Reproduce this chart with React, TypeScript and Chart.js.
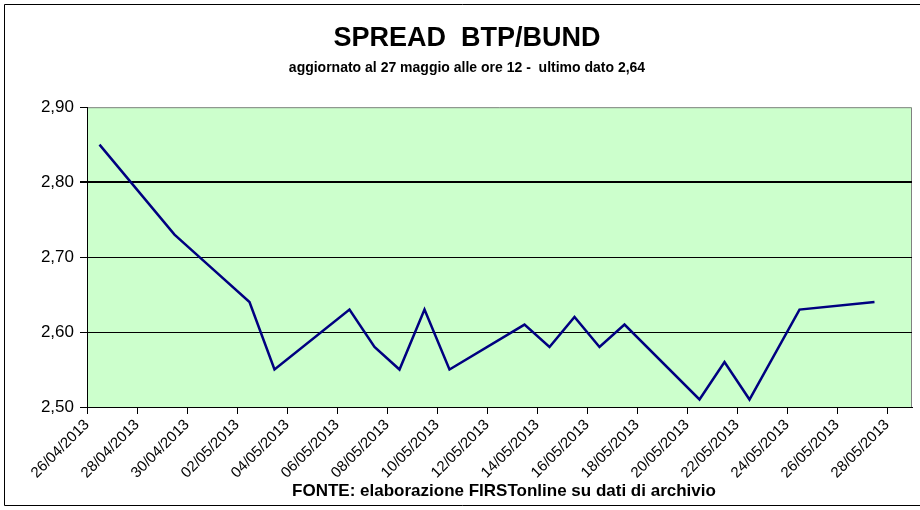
import React, { useEffect, useRef } from "react";
import { Chart, registerables } from "chart.js";

Chart.register(...registerables);

const TITLE = "SPREAD  BTP/BUND";
const SUBTITLE = "aggiornato al 27 maggio alle ore 12 -  ultimo dato 2,64";
const FOOTER = "FONTE: elaborazione FIRSTonline su dati di archivio";

const AXIS_START = "26/04/2013";
const AXIS_DAYS = 33;
const TICK_STEP_DAYS = 2;

const dates = [
  "26/04/2013", "29/04/2013", "30/04/2013", "02/05/2013", "03/05/2013",
  "06/05/2013", "07/05/2013", "08/05/2013", "09/05/2013", "10/05/2013",
  "13/05/2013", "14/05/2013", "15/05/2013", "16/05/2013", "17/05/2013",
  "20/05/2013", "21/05/2013", "22/05/2013", "24/05/2013", "27/05/2013",
];
const spread = [
  2.85, 2.73, 2.70, 2.64, 2.55,
  2.63, 2.58, 2.55, 2.63, 2.55,
  2.61, 2.58, 2.62, 2.58, 2.61,
  2.51, 2.56, 2.51, 2.63, 2.64,
];

const Y_MIN = 2.5;
const Y_MAX = 2.9;
const Y_STEP = 0.1;

const parseDate = (s: string) => {
  const [d, m, y] = s.split("/").map(Number);
  return Date.UTC(y, m - 1, d);
};
const DAY = 86400000;
const start = parseDate(AXIS_START);
const dayIndex = (s: string) => Math.round((parseDate(s) - start) / DAY);
const fmt = (n: number) => (n < 10 ? "0" + n : "" + n);
const labelFor = (v: number) => {
  const d = new Date(start + v * DAY);
  return `${fmt(d.getUTCDate())}/${fmt(d.getUTCMonth() + 1)}/${d.getUTCFullYear()}`;
};

const FONT = "'Liberation Sans', Arial, sans-serif";

export default function App() {
  const ref = useRef<HTMLCanvasElement | null>(null);

  useEffect(() => {
    document.body.style.margin = "0";
    const canvas = ref.current;
    if (!canvas) return;

    const points = dates.map((d, i) => ({ x: dayIndex(d) + 0.5, y: spread[i] }));

    const bgPlugin = {
      id: "bgPlugin",
      beforeDraw(chart: any) {
        const { ctx, chartArea: a } = chart;
        ctx.save();
        ctx.fillStyle = "#ffffff";
        ctx.fillRect(0, 0, chart.width, chart.height);
        ctx.fillStyle = "#CCFFCC";
        ctx.fillRect(a.left, a.top, a.right - a.left, a.bottom - a.top);
        ctx.strokeStyle = "#808080";
        ctx.lineWidth = 1;
        ctx.beginPath();
        ctx.moveTo(a.left, a.top + 0.5);
        ctx.lineTo(a.right - 0.5, a.top + 0.5);
        ctx.lineTo(a.right - 0.5, a.bottom);
        ctx.stroke();
        ctx.restore();
      },
      afterDraw(chart: any) {
        const { ctx } = chart;
        ctx.save();
        ctx.fillStyle = "#000";
        ctx.font = `bold 17px ${FONT}`;
        ctx.textAlign = "center";
        ctx.textBaseline = "middle";
        ctx.fillText(FOOTER, 504, 491);
        ctx.strokeStyle = "#000";
        ctx.lineWidth = 1;
        ctx.beginPath();
        ctx.moveTo(4.5, 505.5);
        ctx.lineTo(4.5, 4.5);
        ctx.lineTo(921, 4.5);
        ctx.moveTo(4.5, 505.5);
        ctx.lineTo(921, 505.5);
        ctx.stroke();
        ctx.restore();
      },
    };

    const chart = new Chart(canvas, {
      type: "line",
      data: {
        datasets: [
          {
            data: points,
            borderColor: "#000080",
            borderWidth: 2.5,
            pointRadius: 0,
            tension: 0,
            fill: false,
          },
        ],
      },
      options: {
        animation: false,
        responsive: false,
        layout: { padding: { left: 22, right: 8, top: 0, bottom: 0 } },
        plugins: {
          legend: { display: false },
          tooltip: { enabled: false },
          title: {
            display: true,
            text: TITLE,
            color: "#000",
            font: { family: FONT, size: 27, weight: "bold" },
            padding: { top: 22, bottom: 0 },
          },
          subtitle: {
            display: true,
            text: SUBTITLE,
            color: "#000",
            font: { family: FONT, size: 14, weight: "bold" },
            padding: { top: 5, bottom: 31 },
          },
        },
        scales: {
          x: {
            type: "linear",
            min: 0,
            max: AXIS_DAYS,
            afterBuildTicks(scale: any) {
              const t = [];
              for (let v = 0; v < AXIS_DAYS; v += TICK_STEP_DAYS) t.push({ value: v });
              scale.ticks = t;
            },
            afterFit(scale: any) {
              scale.height = 103;
            },
            ticks: {
              autoSkip: false,
              maxRotation: 45,
              minRotation: 45,
              color: "#000",
              padding: 2,
              font: { family: FONT, size: 15 },
              callback: (v: any) => labelFor(Number(v)),
            },
            grid: {
              drawOnChartArea: false,
              drawTicks: true,
              tickLength: 7,
              tickColor: "#000",
              color: "#000",
            },
            border: { display: true, color: "#000", width: 1 },
          },
          y: {
            min: Y_MIN,
            max: Y_MAX,
            afterFit(scale: any) {
              scale.width = 65;
            },
            ticks: {
              stepSize: Y_STEP,
              color: "#000",
              padding: 6,
              font: { family: FONT, size: 17 },
              callback: (v: any) => Number(v).toFixed(2).replace(".", ","),
            },
            grid: {
              drawTicks: true,
              tickLength: 7,
              tickColor: "#000",
              color: (c: any) =>
                c.tick && Math.abs(c.tick.value - Y_MAX) < 1e-6 ? "rgba(0,0,0,0)" : "#000",
              lineWidth: (c: any) =>
                c.tick && Math.abs(c.tick.value - 2.8) < 1e-6 ? 2 : 1,
            },
            border: { display: true, color: "#000", width: 1 },
          },
        },
      },
      plugins: [bgPlugin],
    } as any);

    return () => chart.destroy();
  }, []);

  return (
    <div style={{ width: 920, height: 510 }}>
      <canvas ref={ref} width={920} height={510} style={{ display: "block" }} />
    </div>
  );
}
